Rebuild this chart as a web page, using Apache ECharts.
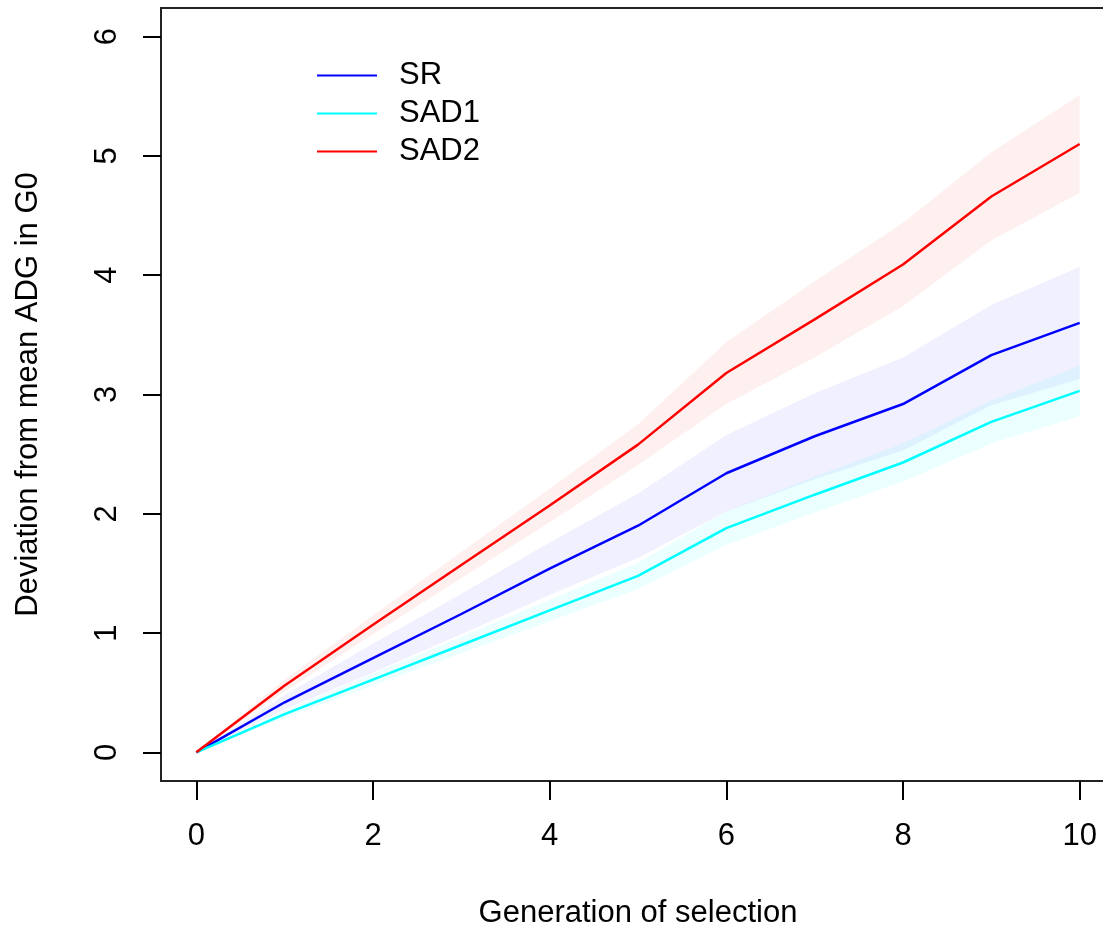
<!DOCTYPE html>
<html>
<head>
<meta charset="utf-8">
<script src="https://cdn.jsdelivr.net/npm/echarts@6/dist/echarts.min.js"></script>
<style>
html,body{margin:0;padding:0;background:#fff;}
#chart{width:1103px;height:930px;}
</style>
</head>
<body>
<div id="chart"></div>
<script>
// ---- data ----
var generations = [0, 1, 2, 3, 4, 5, 6, 7, 8, 9, 10];
var xTicks = [0, 2, 4, 6, 8, 10];
var yTicks = [0, 1, 2, 3, 4, 5, 6];

var srMean  = [0, 0.42, 0.79, 1.16, 1.54, 1.90, 2.34, 2.65, 2.92, 3.33, 3.60];
var srLow   = [0, 0.36, 0.67, 0.99, 1.32, 1.63, 2.02, 2.29, 2.53, 2.91, 3.13];
var srHigh  = [0, 0.48, 0.91, 1.33, 1.76, 2.17, 2.66, 3.01, 3.31, 3.75, 4.07];

var sad1Mean = [0, 0.32, 0.61, 0.90, 1.19, 1.48, 1.88, 2.16, 2.43, 2.77, 3.03];
var sad1Low  = [0, 0.29, 0.56, 0.83, 1.10, 1.37, 1.74, 2.01, 2.27, 2.59, 2.82];
var sad1High = [0, 0.35, 0.66, 0.97, 1.28, 1.59, 2.02, 2.31, 2.59, 2.95, 3.24];

var sad2Mean = [0, 0.56, 1.07, 1.57, 2.07, 2.58, 3.18, 3.63, 4.09, 4.66, 5.10];
var sad2Low  = [0, 0.51, 0.99, 1.46, 1.93, 2.41, 2.92, 3.31, 3.74, 4.29, 4.69];
var sad2High = [0, 0.61, 1.15, 1.68, 2.21, 2.75, 3.44, 3.95, 4.44, 5.03, 5.51];

var seriesNames = ['SR', 'SAD1', 'SAD2'];
var lineColors = ['#0000ff', '#00ffff', '#ff0000'];
var bandColors = ['rgba(0,0,255,0.06)', 'rgba(0,255,255,0.08)', 'rgba(255,0,0,0.06)'];

// ---- build ----
function pairs(vals) { return generations.map(function (g, i) { return [g, vals[i]]; }); }

var groups = [
  {mean: srMean, low: srLow, high: srHigh},
  {mean: sad1Mean, low: sad1Low, high: sad1High},
  {mean: sad2Mean, low: sad2Low, high: sad2High}
];

var series = [];
groups.forEach(function (g, k) {
  var bandData = generations.map(function (x, i) { return [x, g.low[i], g.high[i]]; });
  series.push({
    type: 'custom', name: 'band-' + k, silent: true, z: 1,
    data: bandData,
    encode: {x: 0, y: [1, 2]},
    renderItem: function (params, api) {
      if (params.dataIndex !== 0) return null;
      var upper = [], lower = [];
      for (var i = 0; i < bandData.length; i++) {
        upper.push(api.coord([bandData[i][0], bandData[i][2]]));
        lower.unshift(api.coord([bandData[i][0], bandData[i][1]]));
      }
      return {
        type: 'polygon',
        shape: {points: upper.concat(lower)},
        style: {fill: bandColors[k], stroke: null}
      };
    }
  });
});
groups.forEach(function (g, k) {
  series.push({
    type: 'line', name: seriesNames[k], data: pairs(g.mean), symbol: 'none',
    lineStyle: {color: lineColors[k], width: 2.5}, itemStyle: {color: lineColors[k]}, z: 5
  });
});

var FONT = '"Liberation Sans", Arial, sans-serif';
var chart = echarts.init(document.getElementById('chart'), null, {renderer: 'canvas'});
chart.setOption({
  animation: false,
  backgroundColor: '#ffffff',
  grid: {left: 161, top: 8, width: 954, height: 773, outerBoundsMode: 'none', containLabel: false,
         show: true, borderColor: '#222', borderWidth: 2, backgroundColor: 'transparent'},
  legend: {
    data: seriesNames, orient: 'vertical', left: 312, top: 55,
    itemWidth: 60, itemHeight: 14, itemGap: 7,
    icon: 'path://M0,6H60V8H0Z',
    textStyle: {fontFamily: FONT, fontSize: 31, color: '#000', padding: [0, 0, 0, 17]}
  },
  xAxis: {
    type: 'value', min: -0.4, max: 10.4,
    name: 'Generation of selection', nameLocation: 'middle', nameGap: 117,
    nameTextStyle: {fontFamily: FONT, fontSize: 31, color: '#000'},
    axisLine: {show: false, onZero: false}, splitLine: {show: false},
    axisTick: {show: true, length: 19, customValues: xTicks, lineStyle: {color: '#000', width: 2}},
    axisLabel: {customValues: xTicks, margin: 40, fontFamily: FONT, fontSize: 31, color: '#000'}
  },
  yAxis: {
    type: 'value', min: -0.24, max: 6.24,
    name: 'Deviation from mean ADG in G0', nameLocation: 'middle', nameGap: 117, nameRotate: 90,
    nameTextStyle: {fontFamily: FONT, fontSize: 31, color: '#000'},
    axisLine: {show: false, onZero: false}, splitLine: {show: false},
    axisTick: {show: true, length: 18, customValues: yTicks, lineStyle: {color: '#000', width: 2}},
    axisLabel: {customValues: yTicks, margin: 38, rotate: 90, fontFamily: FONT, fontSize: 31, color: '#000'}
  },
  series: series
});
</script>
</body>
</html>
